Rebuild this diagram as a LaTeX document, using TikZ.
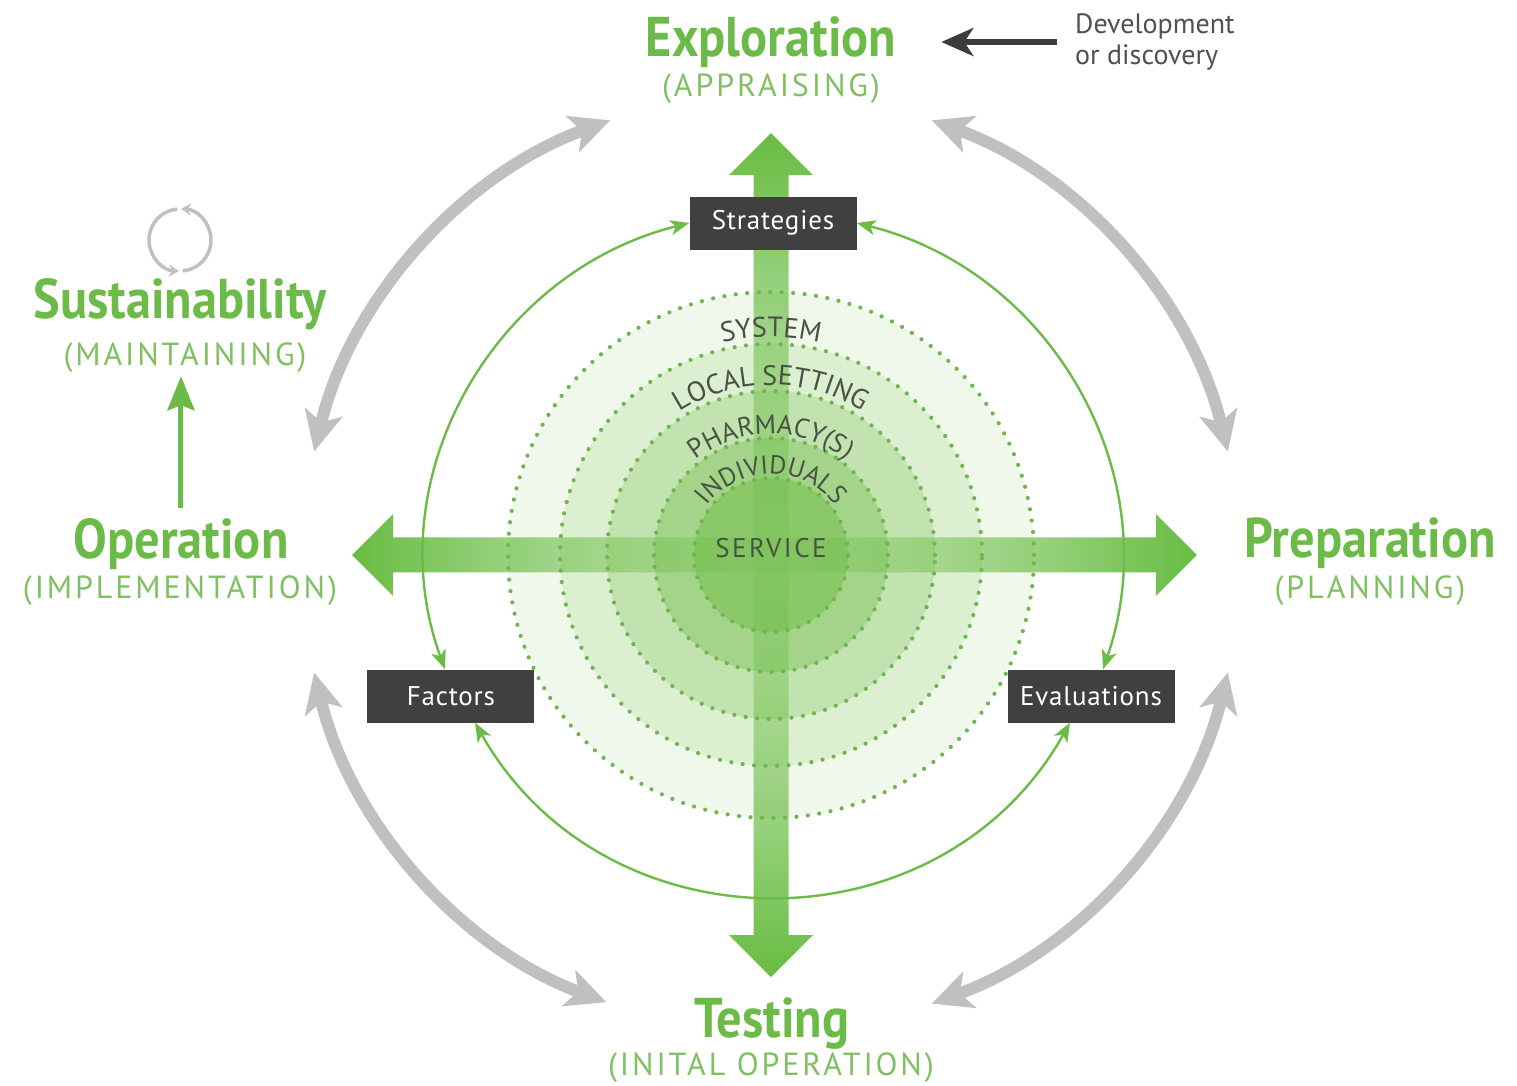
\documentclass[tikz,border=0pt]{standalone}
\usepackage{fontspec}
\setmainfont{PT Sans}
\newfontfamily\titlefont[FakeStretch=0.9]{PT Sans}
\newfontfamily\capsfont[LetterSpace=9]{PT Sans}
\newfontfamily\boxfont[LetterSpace=3]{PT Sans}
\newfontfamily\ringfont{PT Sans}
\usetikzlibrary{arrows.meta,fadings,decorations.text}

\definecolor{phasegreen}{RGB}{108,186,72}
\definecolor{subgreen}{RGB}{128,192,98}
\definecolor{crossgreen}{RGB}{104,188,66}
\definecolor{dotgreen}{RGB}{112,182,80}
\definecolor{ringA}{RGB}{240,247,235}
\definecolor{ringB}{RGB}{220,239,209}
\definecolor{ringC}{RGB}{194,227,175}
\definecolor{ringD}{RGB}{163,212,137}
\definecolor{ringE}{RGB}{138,200,104}
\definecolor{ringtext}{RGB}{72,82,68}
\definecolor{boxgray}{RGB}{64,64,64}
\definecolor{cyclegray}{RGB}{192,192,192}
\definecolor{devgray}{RGB}{60,60,60}

\tikzfading[name=fadeE, left color=transparent!85, middle color=transparent!72, right color=transparent!0]
\tikzfading[name=fadeW, right color=transparent!85, middle color=transparent!72, left color=transparent!0]
\tikzfading[name=fadeN, bottom color=transparent!85, middle color=transparent!72, top color=transparent!0]
\tikzfading[name=fadeS, top color=transparent!85, middle color=transparent!72, bottom color=transparent!0]

\begin{document}
\begin{tikzpicture}
[
  x=1pt, y=1pt,
  phase/.style={text=phasegreen, font=\titlefont\bfseries\fontsize{56}{60}\selectfont, inner sep=0pt, anchor=base},
  phasesub/.style={text=subgreen, font=\capsfont\fontsize{32}{34}\selectfont, inner sep=0pt, anchor=base},
  factorbox/.style={fill=boxgray, text=white, font=\boxfont\fontsize{27}{30}\selectfont, minimum width=167pt, minimum height=53pt, inner sep=0pt},
  ringdots/.style={draw=dotgreen, line width=4.2pt, line cap=round, dash pattern=on 0pt off 11.5pt},
  loopline/.style={draw=phasegreen, line width=2.4pt, {Stealth[length=19pt,width=15pt,inset=5pt]}-{Stealth[length=19pt,width=15pt,inset=5pt]}},
  phasecycle/.style={draw=cyclegray, line width=12pt, {Stealth[length=40pt,width=38pt,inset=10pt]}-{Stealth[length=40pt,width=38pt,inset=10pt]}},
  cycleicon/.style={draw=cyclegray, line width=3.5pt, -{Stealth[length=10pt,width=12pt]}},
  riseline/.style={draw=phasegreen, line width=5pt, -{Stealth[length=34pt,width=27pt,inset=5pt]}},
  devarrow/.style={draw=devgray, line width=5.5pt, -{Stealth[length=32pt,width=28pt,inset=9pt]}},
  devtext/.style={text=devgray!90, font=\ringfont\fontsize{28}{31}\selectfont, align=left, inner sep=0pt}
]
\useasboundingbox (-771,-530) rectangle (746,555);

% levels
\foreach \r/\c in {263/ringA, 211/ringB, 164/ringC, 117/ringD, 77/ringE}
  \fill[\c] (0,0) circle[radius=\r];

% cross
\fill[crossgreen, path fading=fadeE] (0,17.5) -- (385,17.5) -- (385,41) -- (426,0) -- (385,-41) -- (385,-17.5) -- (0,-17.5) -- cycle;
\fill[crossgreen, path fading=fadeW] (0,17.5) -- (-378,17.5) -- (-378,41) -- (-419,0) -- (-378,-41) -- (-378,-17.5) -- (0,-17.5) -- cycle;
\fill[crossgreen, path fading=fadeN] (-17.5,0) -- (-17.5,380) -- (-42,380) -- (0,422) -- (42,380) -- (17.5,380) -- (17.5,0) -- cycle;
\fill[crossgreen, path fading=fadeS] (-17.5,0) -- (-17.5,-380) -- (-42,-380) -- (0,-422) -- (42,-380) -- (17.5,-380) -- (17.5,0) -- cycle;

\foreach \r in {263, 211, 164, 117, 77}
  \draw[ringdots] (0,0) circle[radius=\r];

\path[decorate, decoration={text along path, text align=center, text={|\ringfont\fontsize{28}{30}\selectfont\color{ringtext}|SYSTEM}}] (180:218) arc[start angle=180, end angle=0, radius=218];
\path[decorate, decoration={text along path, text align=center, text={|\ringfont\fontsize{28}{30}\selectfont\color{ringtext}|LOCAL SETTING}}] (180:170) arc[start angle=180, end angle=0, radius=170];
\path[decorate, decoration={text along path, text align=center, text={|\ringfont\fontsize{27}{30}\selectfont\color{ringtext}|PHARMACY(S)}}] (180:121) arc[start angle=180, end angle=0, radius=121];
\path[decorate, decoration={text along path, text align=center, text={|\ringfont\fontsize{26}{30}\selectfont\color{ringtext}|INDIVIDUALS}}] (180:81) arc[start angle=180, end angle=0, radius=81];
\node[text=ringtext, font=\capsfont\fontsize{27}{30}\selectfont, inner sep=0pt] (serv) at (0,7) {SERVICE};

% boxes and loop
\node[factorbox] (strat) at (2,332) {Strategies};
\node[factorbox] (fact) at (-320,-141) {Factors};
\node[factorbox] (eval) at (320,-141) {Evaluations};

\draw[loopline] (strat.west) to[out=194, in=110, looseness=1.02] ([xshift=-6pt]fact.north);
\draw[loopline] (strat.east) to[out=-14, in=71, looseness=1.02] ([xshift=12pt]eval.north);
\draw[loopline] ([xshift=24pt]fact.south) to[out=-60.5, in=240.7, looseness=1.14] ([xshift=-21pt]eval.south);

% phases
\node[phase] (expl) at (0,498) {Exploration};
\node[phasesub] (expl-s) at (0,458) {(APPRAISING)};
\node[phase] (sust) at (-591,237) {Sustainability};
\node[phasesub] (sust-s) at (-586,190) {(MAINTAINING)};
\node[phase] (oper) at (-590,-3) {Operation};
\node[phasesub] (oper-s) at (-591,-43) {(IMPLEMENTATION)};
\node[phase] (prep) at (599,-2) {Preparation};
\node[phasesub] (prep-s) at (599,-43) {(PLANNING)};
\node[phase] (test) at (1,-482) {Testing};
\node[phasesub] (test-s) at (0,-520) {(INITAL OPERATION)};

\begin{scope}[yshift=-7pt]
\foreach \a/\b in {110/166.4, 70/13.6, 193.6/249.5, -13.6/-70}
  \draw[phasecycle] (\a:470) arc[start angle=\a, end angle=\b, radius=470];
\end{scope}

\draw[riseline] ([yshift=10pt]oper.north) -- ([yshift=-4pt]oper.north |- sust-s.south);

\begin{scope}[shift={(-591,315)}]
  \draw[cycleicon] (-85:31) arc[start angle=-85, end angle=88, radius=31];
  \draw[cycleicon] (95:31) arc[start angle=95, end angle=268, radius=31];
\end{scope}

\node[devtext, anchor=west] (dev) at (304,513) {Development\\or discovery};
\draw[devarrow, shorten <=18pt, shorten >=45pt] (dev.west) -- (dev.west -| expl.east);
\end{tikzpicture}
\end{document}
